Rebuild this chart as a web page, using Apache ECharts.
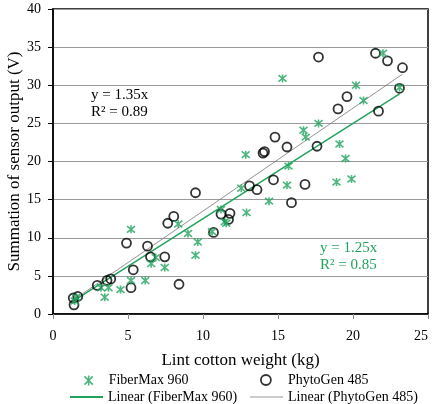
<!DOCTYPE html>
<html>
<head>
<meta charset="utf-8">
<script src="https://cdn.jsdelivr.net/npm/echarts@6/dist/echarts.min.js"></script>
<style>
  html, body { margin: 0; padding: 0; background: #fff; }
  #chart { width: 432px; height: 404px; }
</style>
</head>
<body>
<div id="chart"></div>
<script>
// FiberMax 960 points [lint weight kg, sensor sum V]
const fiberMax = [
  [1.45, 1.7], [1.55, 2.2], [3.2, 3.45], [3.45, 2.2], [3.7, 3.45], [4.5, 3.2],
  [5.2, 11.1], [5.2, 4.4], [6.15, 4.4], [6.55, 6.6], [6.85, 7.4], [7.45, 6.1],
  [8.35, 11.8], [9.0, 10.55], [9.5, 7.7], [9.65, 9.45], [10.6, 10.8], [11.2, 13.7],
  [11.45, 12.1], [11.55, 11.9], [12.55, 16.5], [12.85, 20.9], [12.9, 13.3], [14.4, 14.8],
  [15.3, 30.9], [15.6, 16.9], [15.7, 19.4], [16.7, 24.1], [16.85, 23.2], [17.7, 25.0],
  [18.9, 17.3], [19.1, 22.3], [19.5, 20.4], [19.9, 17.7], [20.2, 30.0], [20.7, 28.0],
  [22.0, 34.2], [23.1, 29.7]
];
// PhytoGen 485 points
const phytoGen = [
  [1.4, 1.2], [1.35, 2.1], [1.65, 2.3], [2.95, 3.75], [3.6, 4.4], [3.85, 4.6],
  [4.9, 9.3], [5.2, 3.45], [5.35, 5.8], [6.3, 8.9], [6.5, 7.5], [7.45, 7.5],
  [7.65, 11.9], [8.05, 12.8], [8.4, 3.9], [9.5, 15.9], [10.7, 10.7], [11.2, 13.1],
  [11.7, 12.4], [11.8, 13.2], [13.1, 16.8], [13.6, 16.3], [14.0, 21.1], [14.1, 21.3],
  [14.7, 17.6], [14.8, 23.2], [15.6, 21.9], [15.9, 14.6], [16.8, 17.0], [17.6, 22.0],
  [17.7, 33.7], [19.0, 26.9], [19.6, 28.5], [21.5, 34.2], [21.7, 26.6], [22.3, 33.2],
  [23.1, 29.6], [23.3, 32.3]
];
// trendline slopes (through origin), as printed on the chart
const slopes = { fiber: 1.25, phyto: 1.35 };
const eqLabels = {
  fiber: ['y = 1.25x', 'R² = 0.85'],
  phyto: ['y = 1.35x', 'R² = 0.89']
};
const xTicks = [0, 25, 5];
const yTicks = [0, 40, 5];

const GREEN = '#21a35c';
const FONT = 'Liberation Serif';
const STAR = 'path://M0,0L10,10M10,0L0,10M5,-1L5,11';

function trend(pts, k) {
  const xs = pts.map(p => p[0]);
  const a = Math.min(...xs), b = Math.max(...xs);
  return [[a, a * k], [b, b * k]];
}

const legendText = { fontFamily: FONT, fontSize: 14, color: '#000' };

const chart = echarts.init(document.getElementById('chart'));
const option = {
  animation: false,
  textStyle: { fontFamily: FONT, color: '#000' },
  grid: {
    left: 53, right: 4, top: 9, bottom: 90, outerBoundsMode: 'none',
    show: true, borderColor: '#000', borderWidth: 1.5
  },
  xAxis: {
    type: 'value', min: xTicks[0], max: xTicks[1], interval: xTicks[2],
    name: 'Lint cotton weight (kg)', nameLocation: 'middle', nameGap: 38,
    nameTextStyle: { fontFamily: FONT, fontSize: 17, color: '#000' },
    axisLine: { lineStyle: { color: '#000', width: 1.5 } },
    axisTick: { show: true, length: 5, lineStyle: { color: '#888' } },
    axisLabel: { fontFamily: FONT, fontSize: 14, color: '#000', margin: 15, alignMaxLabel: 'right' },
    splitLine: { show: false }
  },
  yAxis: {
    type: 'value', min: yTicks[0], max: yTicks[1], interval: yTicks[2],
    name: 'Summation of sensor output (V)', nameLocation: 'middle', nameGap: 30,
    nameMoveOverlap: false,
    nameTextStyle: { fontFamily: FONT, fontSize: 17, color: '#000' },
    axisLine: { show: true, lineStyle: { color: '#000', width: 1.5 } },
    axisTick: { show: true, length: 5, lineStyle: { color: '#000' } },
    axisLabel: { fontFamily: FONT, fontSize: 14, color: '#000', margin: 12 },
    splitLine: { show: true, lineStyle: { color: '#9a9a9a', width: 1 } }
  },
  legend: [
    { left: 82, top: 373, padding: 0, itemWidth: 10, itemHeight: 10,
      textStyle: Object.assign({ padding: [0, 0, 0, 10] }, legendText),
      data: [{ name: 'FiberMax 960', icon: STAR,
        itemStyle: { color: 'none', borderColor: GREEN, borderWidth: 1.6 } }] },
    { left: 260, top: 373, padding: 0, itemWidth: 10, itemHeight: 10,
      textStyle: Object.assign({ padding: [0, 0, 0, 12] }, legendText),
      data: [{ name: 'PhytoGen 485', icon: 'circle',
        itemStyle: { color: '#fff', borderColor: '#000', borderWidth: 1.8 } }] },
    { left: 70, top: 390, padding: 0, itemWidth: 33, itemHeight: 2,
      textStyle: legendText,
      data: [{ name: 'Linear (FiberMax 960)', icon: 'rect', itemStyle: { color: GREEN } }] },
    { left: 250, top: 390, padding: 0, itemWidth: 33, itemHeight: 1,
      textStyle: legendText,
      data: [{ name: 'Linear (PhytoGen 485)', icon: 'rect', itemStyle: { color: '#999' } }] }
  ],
  series: [
    {
      name: 'Linear (FiberMax 960)', type: 'line', data: trend(fiberMax, slopes.fiber),
      showSymbol: false, lineStyle: { color: GREEN, width: 1.5 }, z: 1
    },
    {
      name: 'Linear (PhytoGen 485)', type: 'line', data: trend(phytoGen, slopes.phyto),
      showSymbol: false, lineStyle: { color: '#777', width: 0.8 }, z: 1
    },
    {
      name: 'FiberMax 960', type: 'scatter', data: fiberMax,
      symbol: STAR, symbolSize: 8,
      itemStyle: { color: 'none', borderColor: GREEN, borderWidth: 1.6 }, z: 3
    },
    {
      name: 'PhytoGen 485', type: 'scatter', data: phytoGen,
      symbol: 'circle', symbolSize: 9,
      itemStyle: { color: 'rgba(0,0,0,0)', borderColor: '#000', borderWidth: 1.8 }, z: 2
    }
  ],
  graphic: [
    { type: 'text', left: 91, top: 87, style: { text: eqLabels.phyto.join('\n'),
      font: '15px "Liberation Serif"', fill: '#000', lineHeight: 17 } },
    { type: 'text', left: 320, top: 240, style: { text: eqLabels.fiber.join('\n'),
      font: '15px "Liberation Serif"', fill: GREEN, lineHeight: 17 } }
  ]
};
chart.setOption(option);
</script>
</body>
</html>
